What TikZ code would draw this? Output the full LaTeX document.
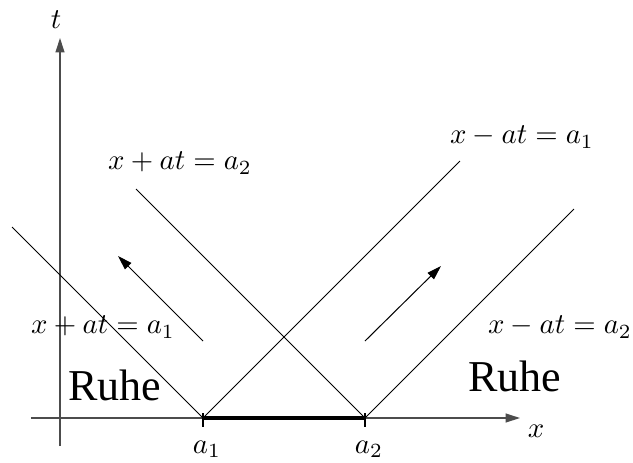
\documentclass[tikz,border=0pt]{standalone}
\usepackage{fontspec}
\newfontfamily\timesfont{Liberation Serif}
\usetikzlibrary{arrows.meta}
\begin{document}
\begin{tikzpicture}[x=0.3472pt,y=-0.3472pt,
  axis/.style={draw=black!70,line width=0.45pt,-{Triangle[length=5pt,width=3.1pt]}},
  char/.style={draw=black,line width=0.35pt},
  dirarrow/.style={draw=black,line width=0.35pt,-{Triangle[length=5pt,width=3.1pt]}},
  lbl/.style={inner sep=0pt,font=\fontsize{10}{12}\selectfont},
  ruhe/.style={inner sep=0pt,font=\timesfont\fontsize{15.3}{18}\selectfont}]
\useasboundingbox (0,0) rectangle (633,462);
% axes
\coordinate (xs) at (31,418);
\coordinate (xe) at (520,418);
\coordinate (ts) at (60,446);
\coordinate (te) at (60,38);
\draw[axis] (xs) -- (xe);
\draw[axis] (ts) -- (te);
% points
\coordinate (a1) at (203,418);
\coordinate (a2) at (365,418);
\coordinate (a1t) at (203,413);
\coordinate (a1b) at (203,427);
\coordinate (a2t) at (365,413);
\coordinate (a2b) at (365,427);
\draw[char] (a1t) -- (a1b);
\draw[char] (a2t) -- (a2b);
\draw[black,line width=1.4pt] (a1) -- (a2);
% characteristics
\coordinate (l1) at (12,227);
\coordinate (r1) at (460,161);
\coordinate (l2) at (136,189);
\coordinate (r2) at (574,209);
\draw[char] (a1) -- (l1);
\draw[char] (a1) -- (r1);
\draw[char] (a2) -- (l2);
\draw[char] (a2) -- (r2);
% direction arrows
\coordinate (p1s) at (203,341);
\coordinate (p1e) at (118,256);
\coordinate (p2s) at (365,341);
\coordinate (p2e) at (441,266);
\draw[dirarrow] (p1s) -- (p1e);
\draw[dirarrow] (p2s) -- (p2e);
% labels
\node[lbl] (tl) at (56,20) {\(t\)};
\node[lbl] (xl) at (536,431) {\(x\)};
\node[lbl] (a1l) at (207,449) {\(a_1\)};
\node[lbl] (a2l) at (369,449) {\(a_2\)};
\node[lbl] (e1) at (180,163) {\(x+at=a_2\)};
\node[lbl] (e2) at (522,137) {\(x-at=a_1\)};
\node[lbl] (e3) at (103,327) {\(x+at=a_1\)};
\node[lbl] (e4) at (560,327) {\(x-at=a_2\)};
\node[ruhe] (ru1) at (115,385) {Ruhe};
\node[ruhe] (ru2) at (515,376) {Ruhe};
\end{tikzpicture}
\end{document}
